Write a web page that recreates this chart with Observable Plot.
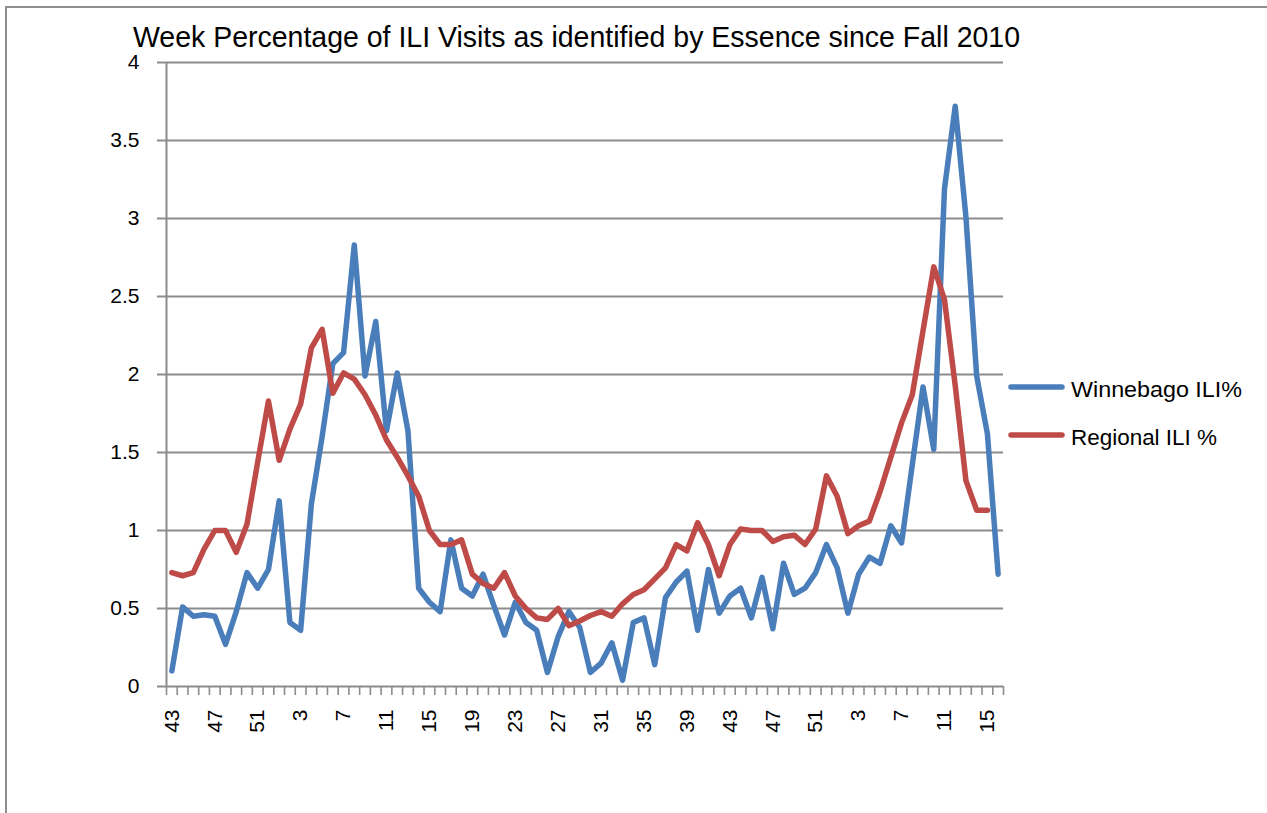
<!DOCTYPE html>
<html>
<head>
<meta charset="utf-8">
<script src="https://cdn.jsdelivr.net/npm/d3@7"></script>
<script src="https://cdn.jsdelivr.net/npm/@observablehq/plot@0.6"></script>
<style>
  html, body { margin: 0; padding: 0; background: #fff; }
  #wrap { position: relative; width: 1267px; height: 813px; overflow: hidden; }
  #frame { position: absolute; left: 5px; top: 6px; width: 1400px; height: 1000px;
           border-left: 2px solid #8e8e8e; border-top: 2px solid #8e8e8e; }
  #wrap svg { position: absolute; left: 0; top: 0; }
</style>
</head>
<body>
<div id="wrap"><div id="frame"></div></div>
<script>
// ---- data ----
const titleText = "Week Percentage of ILI Visits as identified by Essence since Fall 2010";
const weekLabels = [
  43, 44, 45, 46, 47, 48, 49, 50, 51, 52,
  1, 2, 3, 4, 5, 6, 7, 8, 9, 10, 11, 12, 13, 14, 15, 16, 17, 18, 19, 20, 21, 22, 23, 24, 25, 26,
  27, 28, 29, 30, 31, 32, 33, 34, 35, 36, 37, 38, 39, 40, 41, 42, 43, 44, 45, 46, 47, 48, 49, 50, 51, 52,
  1, 2, 3, 4, 5, 6, 7, 8, 9, 10, 11, 12, 13, 14, 15, 16
];
const winnebago = [
  0.10, 0.51, 0.45, 0.46, 0.45, 0.27, 0.48, 0.73, 0.63, 0.75, 1.19, 0.41, 0.36,
  1.17, 1.60, 2.07, 2.14, 2.83, 1.99, 2.34, 1.64, 2.01, 1.64, 0.63, 0.54, 0.48,
  0.94, 0.63, 0.58, 0.72, 0.52, 0.33, 0.54, 0.41, 0.36, 0.09, 0.32, 0.48, 0.38,
  0.09, 0.15, 0.28, 0.04, 0.41, 0.44, 0.14, 0.57, 0.67, 0.74, 0.36, 0.75, 0.47,
  0.58, 0.63, 0.44, 0.70, 0.37, 0.79, 0.59, 0.63, 0.73, 0.91, 0.76, 0.47, 0.72,
  0.83, 0.79, 1.03, 0.92, 1.42, 1.92, 1.52, 3.19, 3.72, 3.01, 1.99, 1.62, 0.72
];
const regional = [
  0.73, 0.71, 0.73, 0.88, 1.00, 1.00, 0.86, 1.04, 1.44, 1.83, 1.45, 1.65, 1.81,
  2.17, 2.29, 1.88, 2.01, 1.97, 1.87, 1.74, 1.58, 1.47, 1.35, 1.22, 1.00, 0.91,
  0.91, 0.94, 0.72, 0.66, 0.63, 0.73, 0.58, 0.50, 0.44, 0.43, 0.50, 0.39, 0.42,
  0.455, 0.48, 0.45, 0.53, 0.59, 0.62, 0.69, 0.76, 0.91, 0.87, 1.05, 0.91, 0.71,
  0.91, 1.01, 1.00, 1.00, 0.93, 0.96, 0.97, 0.91, 1.01, 1.35, 1.22, 0.98, 1.03,
  1.06, 1.25, 1.47, 1.69, 1.87, 2.28, 2.69, 2.48, 1.93, 1.32, 1.13, 1.13
];
const seriesNames = ["Winnebago ILI%", "Regional ILI %"];
const seriesColors = ["#4a7ebb", "#be4b48"];
const yTicks = [0, 0.5, 1, 1.5, 2, 2.5, 3, 3.5, 4];
const labelEvery = 4;

// ---- table ----
const rows = [];
weekLabels.forEach((w, i) => {
  if (winnebago[i] != null) rows.push({i, week: w, series: seriesNames[0], value: winnebago[i]});
});
weekLabels.forEach((w, i) => {
  if (regional[i] != null) rows.push({i, week: w, series: seriesNames[1], value: regional[i]});
});
const n = weekLabels.length;
const boundaries = d3.range(n + 1).map(i => i - 0.5);
const labelTicks = d3.range(0, n, labelEvery);

const gray = "#8c8c8c";
const font = "'Liberation Sans', Arial, sans-serif";

const chart = Plot.plot({
  width: 1267,
  height: 813,
  marginLeft: 166,
  marginRight: 264,
  marginTop: 62,
  marginBottom: 127,
  style: {fontFamily: font, fontSize: "21px", color: "#000", background: "transparent", overflow: "visible"},
  x: {type: "linear", domain: [-0.5, n - 0.5], axis: null},
  y: {domain: [0, 4], axis: null},
  color: {domain: seriesNames, range: seriesColors},
  marks: [
    Plot.ruleY(yTicks.filter(d => d > 0), {stroke: gray, strokeWidth: 2}),
    Plot.axisY({ticks: yTicks, tickSize: 9, tickPadding: 18, tickFormat: d => String(d),
                stroke: gray, strokeWidth: 2, fill: "#000", label: null}),
    Plot.axisX({ticks: boundaries, tickSize: 9, tickFormat: () => "", stroke: gray, strokeWidth: 1.6, label: null}),
    Plot.axisX({ticks: labelTicks, tickSize: 0, tickPadding: 23, tickRotate: -90,
                tickFormat: i => String(weekLabels[i]), fill: "#000", label: null}),
    Plot.ruleX([-0.5], {stroke: gray, strokeWidth: 2}),
    Plot.ruleY([0], {stroke: gray, strokeWidth: 2}),
    Plot.line(rows, {x: "i", y: "value", z: "series", stroke: "series",
                     strokeWidth: 5.5, strokeLinejoin: "round", strokeLinecap: "round"})
  ]
});

document.getElementById("wrap").appendChild(chart);

// title and legend
const svg = d3.select(chart);
svg.append("text")
  .attr("x", 576.5).attr("y", 47)
  .attr("text-anchor", "middle")
  .attr("font-family", font)
  .attr("font-size", 29)
  .attr("fill", "#000")
  .attr("textLength", 887)
  .attr("lengthAdjust", "spacingAndGlyphs")
  .text(titleText);

const legend = svg.append("g");
const legendY = [387, 435];
const legendW = [171, 146];
seriesNames.forEach((name, k) => {
  legend.append("line")
    .attr("x1", 1011).attr("x2", 1062)
    .attr("y1", legendY[k]).attr("y2", legendY[k])
    .attr("stroke", seriesColors[k]).attr("stroke-width", 5.5).attr("stroke-linecap", "round");
  legend.append("text")
    .attr("x", 1071).attr("y", legendY[k] + 10)
    .attr("text-anchor", "start")
    .attr("font-family", font).attr("font-size", 22).attr("fill", "#000")
    .attr("textLength", legendW[k]).attr("lengthAdjust", "spacingAndGlyphs")
    .text(name);
});
</script>
</body>
</html>
